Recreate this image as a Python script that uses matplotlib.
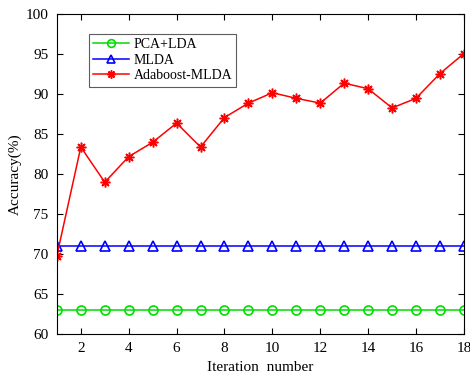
import matplotlib
matplotlib.use("Agg")
import matplotlib.pyplot as plt

# accuracy per boosting iteration
iterations = list(range(1, 19))
pca_lda = [63.0] * 18
mlda = [71.0] * 18
adaboost_mlda = [69.8, 83.4, 79.0, 82.2, 84.0, 86.4, 83.4, 87.1, 88.9, 90.2,
                 89.5, 88.9, 91.4, 90.7, 88.3, 89.5, 92.6, 95.1]

x_ticks = [2, 4, 6, 8, 10, 12, 14, 16, 18]
y_ticks = [60, 65, 70, 75, 80, 85, 90, 95, 100]

plt.rcParams["font.family"] = ["Liberation Serif", "DejaVu Serif"]

fig = plt.figure(figsize=(4.7, 3.8), dpi=100)
ax = fig.add_axes([0.121, 0.121, 0.866, 0.841])

ax.plot(iterations, pca_lda, color="#00dd00", marker="o", markersize=6.5,
        markerfacecolor="none", markeredgewidth=1.2, linewidth=1.1, label="PCA+LDA")
ax.plot(iterations, mlda, color="#0000ff", marker="^", markersize=7,
        markerfacecolor="none", markeredgewidth=1.2, linewidth=1.1, label="MLDA")
ax.plot(iterations, adaboost_mlda, color="#ff0000", marker=(8, 2, 0), markersize=7,
        markeredgewidth=1.1, linewidth=1.1, label="Adaboost-MLDA")

ax.set_xlim(1, 18)
ax.set_ylim(60, 100)
ax.set_xticks(x_ticks)
ax.set_yticks(y_ticks)
ax.tick_params(direction="in", top=True, right=True, labelsize=11, length=4,
               width=0.8, pad=6)
for s in ax.spines.values():
    s.set_linewidth(0.8)

ax.set_xlabel("Iteration  number", fontsize=11, labelpad=4)
ax.set_ylabel("Accuracy(%)", fontsize=11, labelpad=3)

leg = ax.legend(loc="upper left", bbox_to_anchor=(0.079, 0.94), fontsize=10,
                frameon=True, fancybox=False, edgecolor="#333333",
                handlelength=2.6, handletextpad=0.3, borderpad=0.3,
                labelspacing=0.2, borderaxespad=0, markerscale=0.85)
leg.get_frame().set_linewidth(0.8)

fig.savefig("out.png", dpi=100)
